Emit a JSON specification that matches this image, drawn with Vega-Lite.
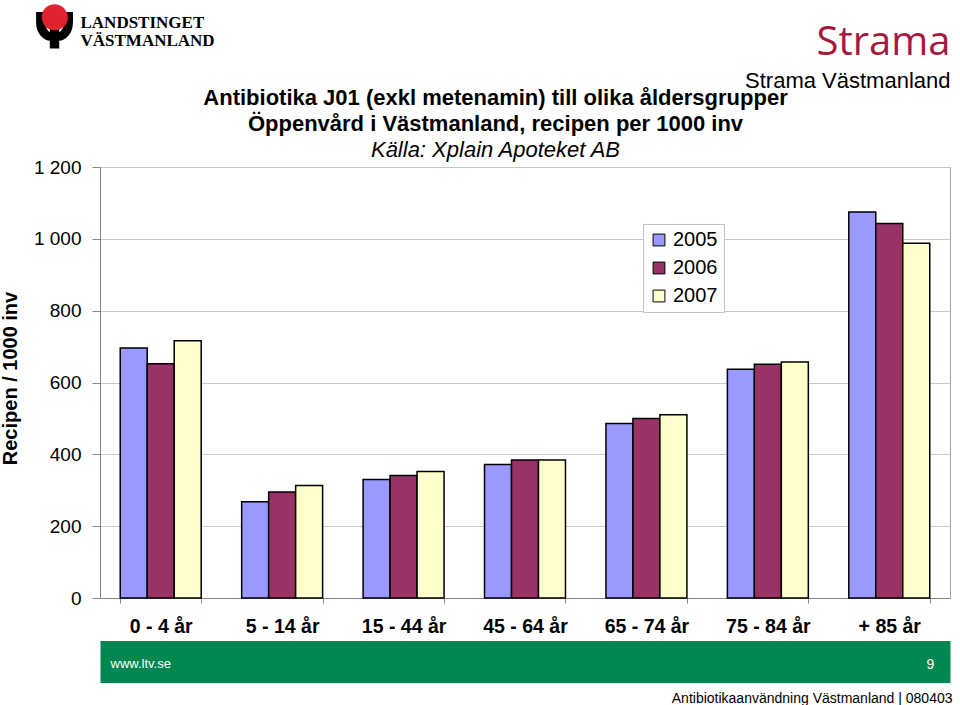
{
  "$schema": "https://vega.github.io/schema/vega-lite/v6.json",
  "autosize": "none",
  "width": 850,
  "height": 431,
  "padding": {"left": 100, "top": 167, "right": 10, "bottom": 107},
  "background": "white",
  "config": {
    "font": "Liberation Sans",
    "view": {"stroke": "#a0a0a0", "strokeWidth": 1}
  },
  "data": {
    "values": [
      {"age": "0 - 4 år", "year": "2005", "value": 696},
      {"age": "0 - 4 år", "year": "2006", "value": 652},
      {"age": "0 - 4 år", "year": "2007", "value": 716},
      {"age": "5 - 14 år", "year": "2005", "value": 268},
      {"age": "5 - 14 år", "year": "2006", "value": 295},
      {"age": "5 - 14 år", "year": "2007", "value": 313},
      {"age": "15 - 44 år", "year": "2005", "value": 330},
      {"age": "15 - 44 år", "year": "2006", "value": 341},
      {"age": "15 - 44 år", "year": "2007", "value": 352},
      {"age": "45 - 64 år", "year": "2005", "value": 372},
      {"age": "45 - 64 år", "year": "2006", "value": 384},
      {"age": "45 - 64 år", "year": "2007", "value": 384},
      {"age": "65 - 74 år", "year": "2005", "value": 486},
      {"age": "65 - 74 år", "year": "2006", "value": 500},
      {"age": "65 - 74 år", "year": "2007", "value": 510},
      {"age": "75 - 84 år", "year": "2005", "value": 637},
      {"age": "75 - 84 år", "year": "2006", "value": 651},
      {"age": "75 - 84 år", "year": "2007", "value": 657},
      {"age": "+ 85 år", "year": "2005", "value": 1075},
      {"age": "+ 85 år", "year": "2006", "value": 1043},
      {"age": "+ 85 år", "year": "2007", "value": 988}
    ]
  },
  "resolve": {"axis": {"x": "independent", "y": "independent"}},
  "layer": [
    {
      "mark": {"type": "bar", "stroke": "black", "strokeWidth": 1.5},
      "encoding": {
        "x": {
          "field": "age", "type": "nominal",
          "sort": ["0 - 4 år", "5 - 14 år", "15 - 44 år", "45 - 64 år", "65 - 74 år", "75 - 84 år", "+ 85 år"],
          "scale": {"paddingInner": 0.3333, "paddingOuter": 0.1667},
          "axis": {
            "title": null, "labelAngle": 0, "labelFontSize": 19.5, "labelFontWeight": "bold",
            "labelColor": "black", "labelPadding": 14, "labelOverlap": false, "labelLimit": 0,
            "tickBand": "extent", "tickSize": 5, "tickColor": "#888888",
            "domainColor": "#888888", "grid": false
          }
        },
        "xOffset": {"field": "year", "type": "nominal"},
        "y": {
          "field": "value", "type": "quantitative",
          "scale": {"domain": [0, 1200], "nice": false},
          "axis": {
            "values": [0, 200, 400, 600, 800, 1000, 1200],
            "labelExpr": "replace(format(datum.value, ','), ',', ' ')",
            "labelFontSize": 19, "labelColor": "black", "labelPadding": 11,
            "tickSize": 8, "tickColor": "#888888", "domainColor": "#808080",
            "gridColor": "#c8c8c8", "grid": true,
            "title": "Recipen / 1000 inv", "titleFontSize": 20, "titleFontWeight": "bold",
            "titleColor": "black", "titleX": -90, "titleY": 211, "titleBaseline": "middle",
            "titleAlign": "center", "titleAngle": -90
          }
        },
        "color": {
          "field": "year", "type": "nominal",
          "scale": {"domain": ["2005", "2006", "2007"], "range": ["#9999FF", "#993366", "#FFFFCC"]},
          "legend": {
            "title": null, "orient": "none", "legendX": 543, "legendY": 57,
            "fillColor": "white", "strokeColor": "#c0c0c0", "padding": 6,
            "symbolType": "square", "symbolSize": 140, "symbolStrokeColor": "black",
            "symbolStrokeWidth": 1, "labelFontSize": 20, "labelColor": "black",
            "rowPadding": 8, "labelOffset": 4, "labelExpr": "datum.label + ' '"
          }
        }
      }
    },
    {
      "mark": {"type": "tick", "opacity": 0},
      "encoding": {
        "x": {
          "field": "age", "type": "nominal",
          "sort": ["0 - 4 år", "5 - 14 år", "15 - 44 år", "45 - 64 år", "65 - 74 år", "75 - 84 år", "+ 85 år"],
          "axis": {
            "orient": "top", "labels": false, "ticks": false, "domain": false, "grid": false,
            "title": ["Antibiotika J01 (exkl metenamin) till olika åldersgrupper", "Öppenvård i Västmanland, recipen per 1000 inv"],
            "titleFontSize": 22, "titleFontWeight": "bold", "titleColor": "black",
            "titleX": 395, "titleY": -63, "titleAlign": "center", "titleBaseline": "alphabetic",
            "titleLineHeight": 26
          }
        },
        "y": {
          "field": "value", "type": "quantitative",
          "axis": {
            "orient": "right", "labels": false, "ticks": false, "domain": false, "grid": false,
            "title": "Källa: Xplain Apoteket AB", "titleFontSize": 22, "titleFontWeight": "normal",
            "titleFontStyle": "italic", "titleColor": "black", "titleAngle": 0,
            "titleX": -455, "titleY": -11, "titleAlign": "center", "titleBaseline": "alphabetic"
          }
        }
      }
    },
    {
      "mark": {"type": "tick", "opacity": 0},
      "encoding": {
        "x": {
          "field": "age", "type": "nominal",
          "sort": ["0 - 4 år", "5 - 14 år", "15 - 44 år", "45 - 64 år", "65 - 74 år", "75 - 84 år", "+ 85 år"],
          "axis": {
            "orient": "top", "labels": false, "ticks": false, "domain": false, "grid": false,
            "title": "Strama Västmanland", "titleFontSize": 22, "titleFontWeight": "normal",
            "titleColor": "black", "titleX": 850, "titleY": -80, "titleAlign": "right",
            "titleBaseline": "alphabetic"
          }
        },
        "y": {
          "field": "value", "type": "quantitative",
          "axis": {
            "orient": "left", "labels": false, "ticks": false, "domain": false, "grid": false,
            "title": "Strama", "titleFont": "Open Sans", "titleFontSize": 40, "titleFontWeight": "normal",
            "titleColor": "#a6193e", "titleAngle": 0, "titleX": 850, "titleY": -113,
            "titleAlign": "right", "titleBaseline": "alphabetic"
          }
        }
      }
    },
    {
      "mark": {"type": "tick", "opacity": 0},
      "encoding": {
        "x": {
          "field": "age", "type": "nominal",
          "sort": ["0 - 4 år", "5 - 14 år", "15 - 44 år", "45 - 64 år", "65 - 74 år", "75 - 84 år", "+ 85 år"],
          "axis": {
            "orient": "bottom", "offset": 63.5, "labels": false, "ticks": false, "grid": false,
            "domain": true, "domainColor": "#00864f", "domainWidth": 42, "domainCap": "butt",
            "title": "www.ltv.se", "titleFontSize": 13, "titleFontWeight": "normal",
            "titleColor": "white", "titleX": 10, "titleY": 2, "titleAlign": "left",
            "titleBaseline": "middle"
          }
        },
        "y": {
          "field": "value", "type": "quantitative",
          "axis": {
            "orient": "left", "labels": false, "ticks": false, "domain": false, "grid": false,
            "title": ["LANDSTINGET", "VÄSTMANLAND"], "titleFont": "Liberation Serif",
            "titleFontSize": 17, "titleFontWeight": "bold", "titleColor": "black",
            "titleAngle": 0, "titleX": -20, "titleY": -140, "titleAlign": "left",
            "titleBaseline": "alphabetic", "titleLineHeight": 18
          }
        }
      }
    },
    {
      "mark": {"type": "tick", "opacity": 0},
      "encoding": {
        "x": {
          "field": "age", "type": "nominal",
          "sort": ["0 - 4 år", "5 - 14 år", "15 - 44 år", "45 - 64 år", "65 - 74 år", "75 - 84 år", "+ 85 år"],
          "axis": {
            "orient": "bottom", "labels": false, "ticks": false, "domain": false, "grid": false,
            "title": "Antibiotikaanvändning Västmanland  | 080403", "titleFontSize": 14,
            "titleFontWeight": "normal", "titleColor": "black", "titleX": 852, "titleY": 100,
            "titleAlign": "right", "titleBaseline": "middle"
          }
        },
        "y": {
          "field": "value", "type": "quantitative",
          "axis": {
            "orient": "right", "labels": false, "ticks": false, "domain": false, "grid": false,
            "title": "9", "titleFontSize": 14, "titleFontWeight": "normal", "titleColor": "white",
            "titleAngle": 0, "titleX": -20, "titleY": 497, "titleAlign": "center",
            "titleBaseline": "middle"
          }
        }
      }
    },
    {
      "mark": {"type": "tick", "opacity": 0},
      "encoding": {
        "x": {
          "field": "age", "type": "nominal",
          "sort": ["0 - 4 år", "5 - 14 år", "15 - 44 år", "45 - 64 år", "65 - 74 år", "75 - 84 år", "+ 85 år"],
          "axis": {
            "orient": "top", "labels": false, "ticks": false, "domain": false, "grid": false,
            "title": "Ψ", "titleFont": "DejaVu Sans", "titleFontSize": 50, "titleFontWeight": "bold",
            "titleColor": "black", "titleX": -46, "titleY": -120, "titleAlign": "center",
            "titleBaseline": "alphabetic"
          }
        },
        "y": {
          "field": "value", "type": "quantitative",
          "axis": {
            "orient": "left", "labels": false, "ticks": false, "domain": false, "grid": false,
            "title": "●", "titleFont": "DejaVu Sans", "titleFontSize": 34, "titleFontWeight": "normal",
            "titleColor": "#e0242f", "titleAngle": 0, "titleX": -46, "titleY": -152,
            "titleAlign": "center", "titleBaseline": "middle"
          }
        }
      }
    }
  ]
}
